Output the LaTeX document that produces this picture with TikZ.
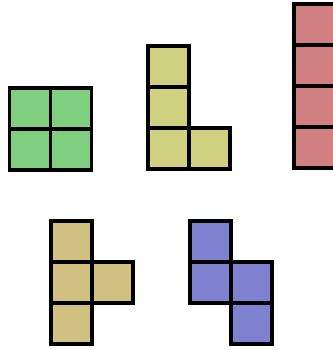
\documentclass[tikz,border=0pt]{standalone}
\usepackage{xcolor}
\usepackage{tikz}

\definecolor{pieceO}{RGB}{128,206,128}
\definecolor{pieceL}{RGB}{207,209,128}
\definecolor{pieceI}{RGB}{208,128,128}
\definecolor{pieceT}{RGB}{209,193,128}
\definecolor{pieceS}{RGB}{128,128,208}

\begin{document}
\begin{tikzpicture}[
    x=1pt, y=-1pt,
    cell/.style={draw=black, line width=3.6pt, line join=miter},
]
\useasboundingbox (0,0) rectangle (332,350);

% square piece
\foreach \cx/\cy in {0/0, 1/0, 0/1, 1/1}
  \draw[cell, fill=pieceO] (9.5+41*\cx, 88+41*\cy) rectangle ++(41,41);

% L piece
\foreach \cx/\cy in {0/0, 0/1, 0/2, 1/2}
  \draw[cell, fill=pieceL] (148+41*\cx, 46+41*\cy) rectangle ++(41,41);

% long piece (cut at the right edge)
\foreach \cy in {0,...,3}
  \draw[cell, fill=pieceI] (294, 4+41*\cy) rectangle ++(41,41);

% T piece
\foreach \cx/\cy in {0/0, 0/1, 1/1, 0/2}
  \draw[cell, fill=pieceT] (51+41*\cx, 221+41*\cy) rectangle ++(41,41);

% S piece
\foreach \cx/\cy in {0/0, 0/1, 1/1, 1/2}
  \draw[cell, fill=pieceS] (190+41*\cx, 221+41*\cy) rectangle ++(41,41);
\end{tikzpicture}
\end{document}
